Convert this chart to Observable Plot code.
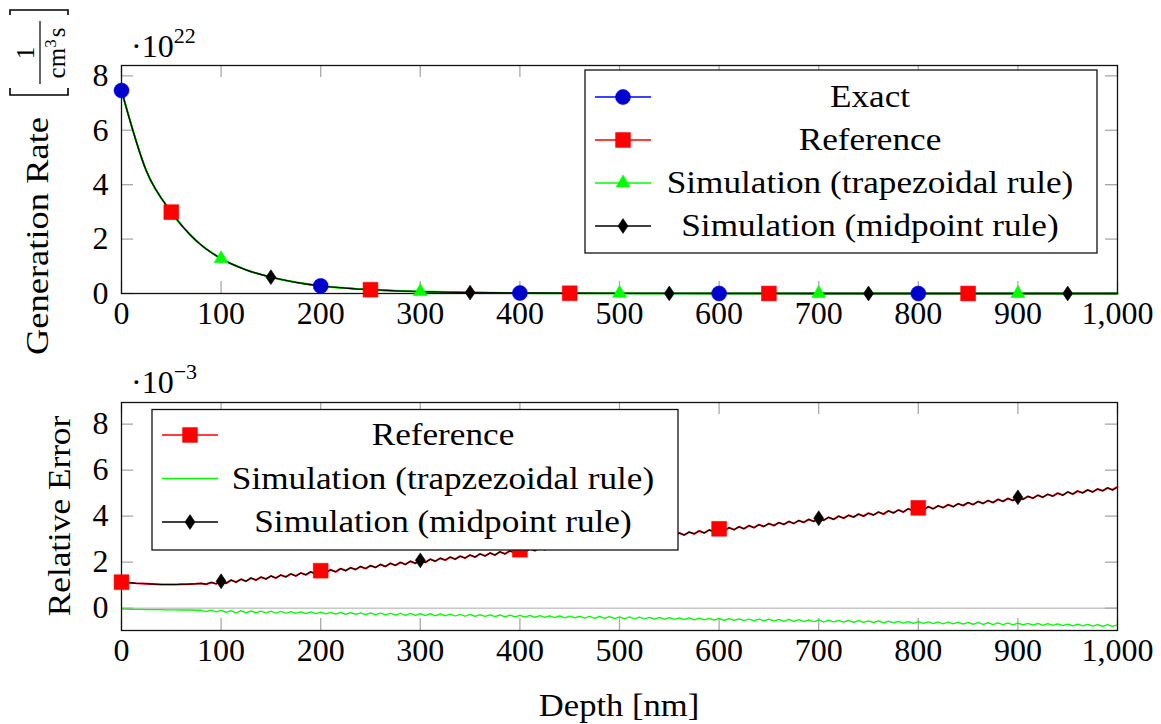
<!DOCTYPE html>
<html>
<head>
<meta charset="utf-8">
<script src="https://cdn.jsdelivr.net/npm/d3@7"></script>
<script src="https://cdn.jsdelivr.net/npm/@observablehq/plot@0.6"></script>
<style>
  body { margin: 0; background: #fff; }
  #fig { position: relative; width: 1161px; height: 724px; background: #fff; }
  #fig > svg { position: absolute; left: 0; }
</style>
</head>
<body>
<div id="fig"></div>
<script>
// ---------- Generation rate (units of 1e22 cm^-3 s^-1) ----------
const genDepth = [0, 25, 50, 75, 100, 125, 150, 175, 200, 225, 250, 275, 300, 350, 400, 450, 500,
                  550, 600, 650, 700, 750, 800, 850, 900, 950, 1000];
const genRate  = [7.46, 4.50, 2.99, 1.94, 1.28, 0.87, 0.60, 0.41, 0.28, 0.20, 0.14, 0.10, 0.07, 0.035, 0.018, 0.009, 0.005,
                  0.003, 0.0015, 0.001, 0.0006, 0.0004, 0.0002, 0.0001, 0.0001, 0, 0];

// depths at which each series shows a marker
const exactMarks     = [0, 200, 400, 600, 800];
const referenceMarks = [50, 250, 450, 650, 850];
const trapezMarks    = [100, 300, 500, 700, 900];
const midpointMarks  = [150, 350, 550, 750, 950];

// ---------- Relative error (units of 1e-3), sampled every 5 nm from 0 to 1000 ----------
const errDepth = d3.range(0, 1001, 5);
const referenceError = [
  1.13, 1.11, 1.10, 1.08, 1.07, 1.06, 1.05, 1.04, 1.03, 1.03, 1.03, 1.03, 1.04, 1.04, 1.05, 1.06, 1.08, 1.04, 1.12, 1.06,
  1.17, 1.08, 1.22, 1.13, 1.26, 1.17, 1.31, 1.22, 1.35, 1.27, 1.40, 1.31, 1.44, 1.36, 1.49, 1.40, 1.53, 1.45, 1.58, 1.49,
  1.63, 1.54, 1.67, 1.58, 1.72, 1.63, 1.76, 1.68, 1.81, 1.72, 1.85, 1.77, 1.90, 1.81, 1.95, 1.86, 1.99, 1.90, 2.04, 1.95,
  2.08, 1.99, 2.13, 2.04, 2.17, 2.09, 2.22, 2.13, 2.26, 2.18, 2.31, 2.22, 2.36, 2.27, 2.40, 2.31, 2.45, 2.36, 2.49, 2.41,
  2.54, 2.45, 2.58, 2.50, 2.63, 2.54, 2.67, 2.59, 2.72, 2.63, 2.77, 2.68, 2.81, 2.72, 2.86, 2.77, 2.90, 2.82, 2.95, 2.86,
  2.99, 2.91, 3.04, 2.95, 3.09, 3.00, 3.13, 3.04, 3.18, 3.09, 3.22, 3.14, 3.27, 3.18, 3.31, 3.23, 3.36, 3.27, 3.40, 3.32,
  3.45, 3.36, 3.50, 3.41, 3.54, 3.45, 3.59, 3.50, 3.63, 3.55, 3.68, 3.59, 3.72, 3.64, 3.77, 3.68, 3.81, 3.73, 3.86, 3.77,
  3.91, 3.82, 3.95, 3.86, 4.00, 3.91, 4.04, 3.96, 4.09, 4.00, 4.13, 4.05, 4.18, 4.09, 4.23, 4.14, 4.27, 4.18, 4.32, 4.23,
  4.36, 4.27, 4.41, 4.32, 4.45, 4.37, 4.50, 4.41, 4.54, 4.46, 4.59, 4.50, 4.64, 4.55, 4.68, 4.59, 4.73, 4.64, 4.77, 4.68,
  4.82, 4.73, 4.86, 4.78, 4.91, 4.82, 4.95, 4.87, 5.00, 4.91, 5.05, 4.96, 5.09, 5.01, 5.14, 5.05, 5.18, 5.10, 5.23, 5.14,
  5.27
];
// the midpoint-rule error follows the reference error to within the line width
const midpointError = referenceError;
const trapezError = [
  -0.04, -0.04, -0.05, -0.05, -0.05, -0.06, -0.06, -0.06, -0.06, -0.07, -0.07, -0.07, -0.08, -0.08, -0.08, -0.09, -0.09, -0.15, -0.08, -0.16,
  -0.10, -0.18, -0.11, -0.21, -0.11, -0.20, -0.12, -0.20, -0.13, -0.21, -0.13, -0.22, -0.14, -0.22, -0.15, -0.23, -0.16, -0.24, -0.16, -0.24,
  -0.17, -0.25, -0.18, -0.26, -0.18, -0.27, -0.19, -0.27, -0.20, -0.28, -0.20, -0.29, -0.21, -0.29, -0.22, -0.30, -0.22, -0.31, -0.23, -0.31,
  -0.24, -0.32, -0.24, -0.33, -0.25, -0.33, -0.26, -0.34, -0.27, -0.35, -0.27, -0.36, -0.28, -0.36, -0.29, -0.37, -0.29, -0.38, -0.30, -0.38,
  -0.31, -0.39, -0.31, -0.40, -0.32, -0.40, -0.33, -0.41, -0.33, -0.42, -0.34, -0.42, -0.35, -0.43, -0.35, -0.44, -0.36, -0.44, -0.37, -0.45,
  -0.38, -0.46, -0.38, -0.47, -0.39, -0.47, -0.40, -0.48, -0.40, -0.49, -0.41, -0.49, -0.42, -0.50, -0.42, -0.51, -0.43, -0.51, -0.44, -0.52,
  -0.44, -0.53, -0.45, -0.53, -0.46, -0.54, -0.47, -0.55, -0.47, -0.55, -0.48, -0.56, -0.49, -0.57, -0.49, -0.57, -0.50, -0.58, -0.51, -0.59,
  -0.51, -0.60, -0.52, -0.60, -0.53, -0.61, -0.53, -0.62, -0.54, -0.62, -0.55, -0.63, -0.55, -0.64, -0.56, -0.64, -0.57, -0.65, -0.58, -0.66,
  -0.58, -0.66, -0.59, -0.67, -0.60, -0.68, -0.60, -0.68, -0.61, -0.69, -0.62, -0.70, -0.62, -0.71, -0.63, -0.71, -0.64, -0.72, -0.64, -0.73,
  -0.65, -0.73, -0.66, -0.74, -0.66, -0.75, -0.67, -0.75, -0.68, -0.76, -0.69, -0.77, -0.69, -0.77, -0.70, -0.78, -0.71, -0.79, -0.71, -0.79,
  -0.72
];

// ---------- axis ticks ----------
const depthTicks = [0, 100, 200, 300, 400, 500, 600, 700, 800, 900, 1000];
const rateTicks  = [0, 2, 4, 6, 8];
const errorTicks = [0, 2, 4, 6, 8];

// ---------- layout & style ----------
const W = 1161, PANEL_H = 362;
const ML = 121, MR = 44;
const innerW = W - ML - MR;
const innerH = 228;
const FONT = "Liberation Serif";
const FS = 32;
const TICK_LEN = 12, TICK_COLOR = "#a8a8a8";
const WIDEN = 1.1;   // horizontal stretch applied to word labels

const BLUE = "#0000ff", BLUE_FILL = "#0000cc", RED = "#ff0000", GREEN = "#00ff00", BLACK = "#000000";

// marker shapes (fixed pixel size)
const markCircle   = { draw(c) { c.moveTo(7.5, 0); c.arc(0, 0, 7.5, 0, 2 * Math.PI); } };
const markSquare   = { draw(c) { c.rect(-7.4, -7.4, 14.8, 14.8); } };
const markTriangle = { draw(c) { c.moveTo(0, -7.9); c.lineTo(6.9, 4.0); c.lineTo(-6.9, 4.0); c.closePath(); } };
const markDiamond  = { draw(c) { c.moveTo(0, -7.4); c.lineTo(5.0, 0); c.lineTo(0, 7.4); c.lineTo(-5.0, 0); c.closePath(); } };

// inward gray ticks on all four sides of the frame
function boxTicks(yTicks) {
  const o = { stroke: TICK_COLOR, strokeWidth: 1.3 };
  return [
    Plot.tickX(depthTicks, { x: d => d, ...o, insetTop: innerH - TICK_LEN }),
    Plot.tickX(depthTicks, { x: d => d, ...o, insetBottom: innerH - TICK_LEN }),
    Plot.tickY(yTicks, { y: d => d, ...o, insetRight: innerW - TICK_LEN }),
    Plot.tickY(yTicks, { y: d => d, ...o, insetLeft: innerW - TICK_LEN })
  ];
}

function axes(yTicks) {
  return [
    Plot.axisX({ ticks: depthTicks, tickSize: 0, tickPadding: 8, tickFormat: d3.format(","), label: null }),
    Plot.axisY({ ticks: yTicks, tickSize: 0, tickPadding: 13, label: null })
  ];
}

const baseStyle = { fontFamily: FONT, fontSize: FS + "px", color: "#000", background: "transparent", overflow: "visible" };

// ---------- upper panel: generation rate ----------
const genRows = genDepth.map((d, i) => ({ depth: d, rate: genRate[i] }));
const at = marks => genRows.filter(r => marks.includes(r.depth));
const gLine = { x: "depth", y: "rate", curve: "monotone-x" };

const topPlot = Plot.plot({
  width: W, height: PANEL_H,
  marginLeft: ML, marginRight: MR, marginTop: 65, marginBottom: PANEL_H - 65 - innerH,
  x: { domain: [0, 1000], label: null },
  y: { domain: [0, 8.38], label: null },
  style: baseStyle,
  marks: [
    ...boxTicks(rateTicks),
    ...axes(rateTicks),
    Plot.line(genRows, { ...gLine, stroke: BLUE, strokeWidth: 1.4 }),
    Plot.line(genRows, { ...gLine, stroke: RED, strokeWidth: 1.4 }),
    Plot.line(genRows, { ...gLine, stroke: GREEN, strokeWidth: 2.0 }),
    Plot.line(genRows, { ...gLine, stroke: BLACK, strokeWidth: 1.3 }),
    Plot.frame({ stroke: "#111", strokeWidth: 1.3 }),
    Plot.dot(at(exactMarks),     { x: "depth", y: "rate", symbol: markCircle,   fill: BLUE_FILL, stroke: BLUE, strokeWidth: 0.6, r: 7 }),
    Plot.dot(at(referenceMarks), { x: "depth", y: "rate", symbol: markSquare,   fill: RED, stroke: RED, strokeWidth: 0.6, r: 7 }),
    Plot.dot(at(trapezMarks),    { x: "depth", y: "rate", symbol: markTriangle, fill: GREEN, stroke: GREEN, strokeWidth: 0.6, r: 7 }),
    Plot.dot(at(midpointMarks),  { x: "depth", y: "rate", symbol: markDiamond,  fill: BLACK, stroke: BLACK, strokeWidth: 0.6, r: 7 })
  ]
});
topPlot.style.top = "0px";

// ---------- lower panel: relative error ----------
const errRows = errDepth.map((d, i) => ({ depth: d, ref: referenceError[i], mid: midpointError[i], trap: trapezError[i] }));
const errRefMarks = [0, 200, 400, 600, 800];
const errMidMarks = [100, 300, 500, 700, 900];

const bottomPlot = Plot.plot({
  width: W, height: PANEL_H,
  marginLeft: ML, marginRight: MR, marginTop: 40, marginBottom: PANEL_H - 40 - innerH,
  x: { domain: [0, 1000], label: null },
  y: { domain: [-0.97, 8.94], label: null },
  style: baseStyle,
  marks: [
    Plot.ruleY([0], { stroke: "#c8c8c8", strokeWidth: 1.5 }),
    ...boxTicks(errorTicks),
    ...axes(errorTicks),
    Plot.line(errRows, { x: "depth", y: "trap", stroke: GREEN, strokeWidth: 1.3 }),
    Plot.line(errRows, { x: "depth", y: "ref", stroke: RED, strokeWidth: 1.9 }),
    Plot.line(errRows, { x: "depth", y: "mid", stroke: BLACK, strokeWidth: 1.1 }),
    Plot.frame({ stroke: "#111", strokeWidth: 1.3 }),
    Plot.dot(errRows.filter(r => errRefMarks.includes(r.depth)), { x: "depth", y: "ref", symbol: markSquare, fill: RED, stroke: RED, strokeWidth: 0.6, r: 7 }),
    Plot.dot(errRows.filter(r => errMidMarks.includes(r.depth)), { x: "depth", y: "mid", symbol: markDiamond, fill: BLACK, stroke: BLACK, strokeWidth: 0.6, r: 7 })
  ]
});
bottomPlot.style.top = PANEL_H + "px";

const fig = document.getElementById("fig");
fig.appendChild(topPlot);
fig.appendChild(bottomPlot);

// ---------- annotations: scale factors, axis titles, legends ----------
const ov = d3.select(fig).append("svg")
  .attr("width", W).attr("height", 724)
  .style("top", "0px")
  .attr("font-family", FONT).attr("font-size", FS).attr("fill", "#000");

// widen a text element horizontally (serif labels set a little wider than the system font)
function widen(sel, k = WIDEN) {
  const len = sel.node().getComputedTextLength();
  sel.attr("textLength", len * k).attr("lengthAdjust", "spacingAndGlyphs");
  return sel;
}

function scaleFactor(x, y, exp) {
  const t = ov.append("text").attr("x", x).attr("y", y);
  t.append("tspan").text("·10");
  t.append("tspan").attr("dy", -14).attr("font-size", 22).text(exp);
}
scaleFactor(131, 57, "22");
scaleFactor(131, 393, "−3");

// y-axis titles
widen(ov.append("text").attr("transform", "translate(48,117) rotate(-90)").attr("text-anchor", "end").text("Generation Rate"), 1.14);
widen(ov.append("text").attr("transform", "translate(70,516) rotate(-90)").attr("text-anchor", "middle").text("Relative Error"), 1.1);

// unit [1 / (cm^3 s)] set as a bracketed fraction
ov.append("path").attr("d", "M10,88V95H68V88").attr("fill", "none").attr("stroke", "#000").attr("stroke-width", 1.6);
ov.append("path").attr("d", "M10,15V10H68V15").attr("fill", "none").attr("stroke", "#000").attr("stroke-width", 1.6);
ov.append("path").attr("d", "M40,21V84").attr("stroke", "#000").attr("stroke-width", 1.2);
ov.append("text").attr("transform", "translate(34,53) rotate(-90)").attr("text-anchor", "middle").attr("font-size", 25).text("1");
const unit = ov.append("text").attr("transform", "translate(65,53) rotate(-90)").attr("text-anchor", "middle").attr("font-size", 25);
unit.append("tspan").text("cm");
unit.append("tspan").attr("dy", -9).attr("font-size", 17).text("3");
unit.append("tspan").attr("dy", 9).attr("dx", 2).text("s");

function legend(box, rowY, sampleX, textX, rows) {
  const g = ov.append("g");
  g.append("rect").attr("x", box[0]).attr("y", box[1]).attr("width", box[2] - box[0]).attr("height", box[3] - box[1])
    .attr("fill", "#fff").attr("stroke", "#111").attr("stroke-width", 1.3);
  rows.forEach((r, i) => {
    const y = rowY[i];
    g.append("line").attr("x1", sampleX[0]).attr("x2", sampleX[1]).attr("y1", y).attr("y2", y)
      .attr("stroke", r.stroke).attr("stroke-width", 1.3);
    if (r.symbol) {
      g.append("path").attr("transform", `translate(${(sampleX[0] + sampleX[1]) / 2},${y})`)
        .attr("d", d3.symbol(r.symbol, 64)()).attr("fill", r.fill).attr("stroke", r.stroke).attr("stroke-width", 0.6);
    }
    widen(g.append("text").attr("x", textX).attr("y", y + 10).attr("text-anchor", "middle").text(r.label));
  });
}

legend([585, 70, 1097, 253], [97, 140, 183, 226], [595, 651], 870, [
  { label: "Exact", stroke: BLUE, fill: BLUE_FILL, symbol: markCircle },
  { label: "Reference", stroke: RED, fill: RED, symbol: markSquare },
  { label: "Simulation (trapezoidal rule)", stroke: GREEN, fill: GREEN, symbol: markTriangle },
  { label: "Simulation (midpoint rule)", stroke: BLACK, fill: BLACK, symbol: markDiamond }
]);

legend([152, 409.5, 678, 550], [435, 478.5, 522], [162, 218], 443, [
  { label: "Reference", stroke: RED, fill: RED, symbol: markSquare },
  { label: "Simulation (trapzezoidal rule)", stroke: GREEN, fill: GREEN, symbol: null },
  { label: "Simulation (midpoint rule)", stroke: BLACK, fill: BLACK, symbol: markDiamond }
]);

// x-axis title
widen(ov.append("text").attr("x", ML + innerW / 2).attr("y", 716).attr("text-anchor", "middle").text("Depth [nm]"), 1.08);
</script>
</body>
</html>
